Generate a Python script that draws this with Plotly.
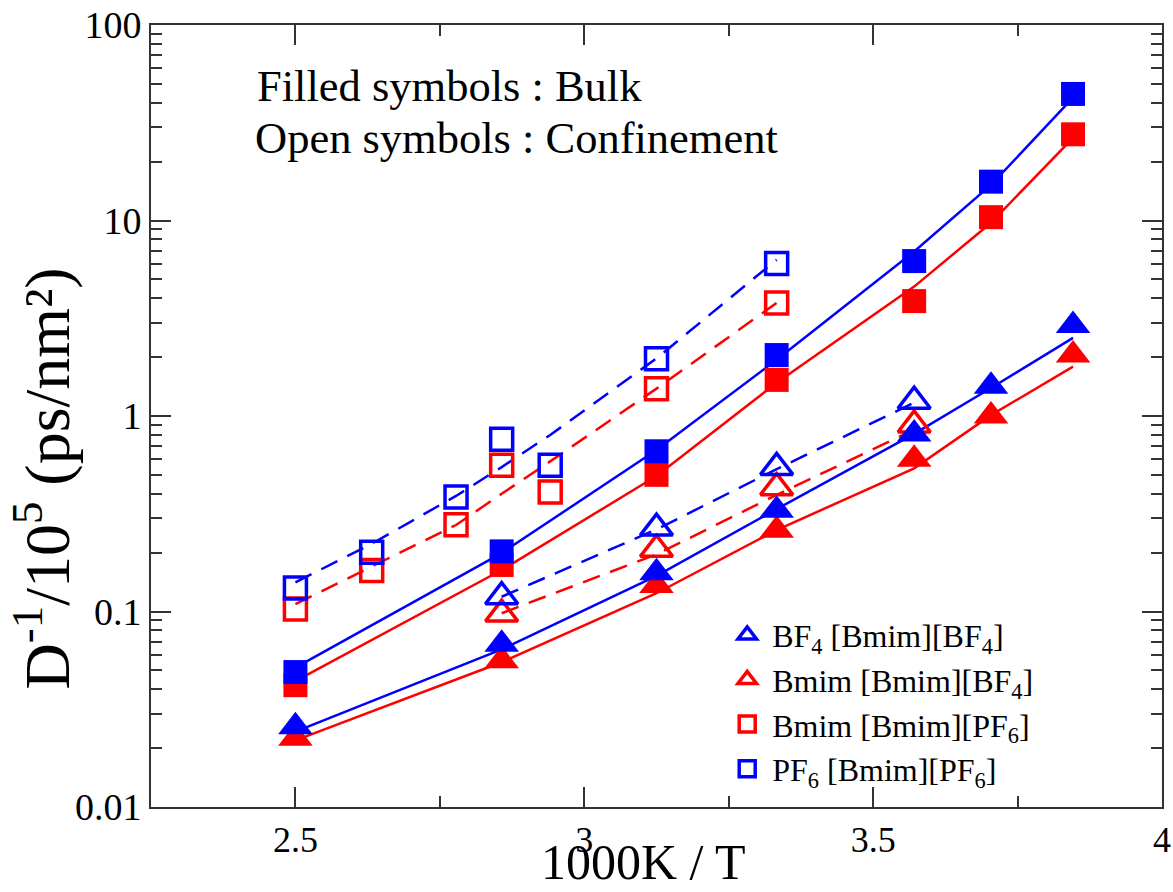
import plotly.graph_objects as go

# 1000K / T for the simulated temperatures
x_bulk = [2.5, 2.857, 3.125, 3.333, 3.571, 3.704, 3.846]
x_conf_pf6 = [2.5, 2.632, 2.778, 2.857, 2.941, 3.125, 3.333]
x_conf_bf4 = [2.857, 3.125, 3.333, 3.571]

# D^-1 / 10^5 (ps/nm^2), bulk (filled symbols)
pf6_bulk = [0.049, 0.203, 0.66, 2.05, 6.2, 15.8, 44.4]
bmim_pf6_bulk = [0.042, 0.173, 0.50, 1.53, 3.87, 10.4, 27.6]
bf4_bulk = [0.0257, 0.068, 0.158, 0.33, 0.81, 1.42, 2.9]
bmim_bf4_bulk = [0.0225, 0.056, 0.136, 0.26, 0.60, 1.0, 2.05]

# confinement (open symbols)
pf6_conf = [0.132, 0.201, 0.385, 0.76, 0.56, 1.96, 6.03]
bmim_pf6_conf = [0.103, 0.162, 0.278, 0.56, 0.408, 1.38, 3.79]
bf4_conf = [0.119, 0.267, 0.546, 1.19]
bmim_bf4_conf = [0.097, 0.208, 0.43, 0.90]

# fitted curves evaluated at the same temperatures
pf6_bulk_fit = [0.0516, 0.199, 0.67, 1.94, 6.94, 15.2, 42.5]
bmim_pf6_bulk_fit = [0.044, 0.163, 0.493, 1.48, 4.59, 9.73, 26.5]
bf4_bulk_fit = [0.0243, 0.064, 0.152, 0.334, 0.81, 1.39, 2.51]
bmim_bf4_bulk_fit = [0.0219, 0.055, 0.124, 0.261, 0.54, 1.01, 1.79]
pf6_conf_fit = [0.141, 0.222, 0.39, 0.548, 0.80, 1.97, 6.3]
bmim_pf6_conf_fit = [0.109, 0.17, 0.277, 0.40, 0.586, 1.38, 3.79]
bf4_conf_fit = [0.119, 0.263, 0.535, 1.17]
bmim_bf4_conf_fit = [0.098, 0.196, 0.395, 0.85]

y_tickvals = [0.01, 0.1, 1, 10, 100]
y_ticktext = ["0.01", "0.1", "1", "10", "100"]
x_tickvals = [2.5, 3, 3.5, 4]
x_ticktext = ["2.5", "3", "3.5", "4"]

BLUE = "#0000ff"
RED = "#ff0000"
FONT = "Liberation Serif"
DASH = "18px,11px"

fig = go.Figure()


def fit_line(x, y, color, dash):
    fig.add_trace(go.Scatter(x=x, y=y, mode="lines", showlegend=False,
                             line=dict(color=color, width=2.5, dash=dash),
                             hoverinfo="skip"))


def points(x, y, color, symbol, size, filled, name=None, rank=None):
    marker = dict(symbol=symbol, size=size, color=color,
                  line=dict(color=color, width=0 if filled else 3.5))
    fig.add_trace(go.Scatter(x=x, y=y, mode="markers", marker=marker,
                             name=name, showlegend=name is not None,
                             legendrank=rank if rank else 1000))


# fitted curves
fit_line(x_conf_pf6, bmim_pf6_conf_fit, RED, DASH)
fit_line(x_conf_pf6, pf6_conf_fit, BLUE, DASH)
fit_line(x_conf_bf4, bmim_bf4_conf_fit, RED, DASH)
fit_line(x_conf_bf4, bf4_conf_fit, BLUE, DASH)
fit_line(x_bulk, bmim_pf6_bulk_fit, RED, "solid")
fit_line(x_bulk, pf6_bulk_fit, BLUE, "solid")
fit_line(x_bulk, bmim_bf4_bulk_fit, RED, "solid")
fit_line(x_bulk, bf4_bulk_fit, BLUE, "solid")

# confinement (open symbols)
points(x_conf_pf6, bmim_pf6_conf, RED, "square-open", 22, False,
       "Bmim [Bmim][PF<sub>6</sub>]", 3)
points(x_conf_pf6, pf6_conf, BLUE, "square-open", 22, False,
       "PF<sub>6</sub> [Bmim][PF<sub>6</sub>]", 4)
points(x_conf_bf4, bmim_bf4_conf, RED, "triangle-up-open", 28, False,
       "Bmim [Bmim][BF<sub>4</sub>]", 2)
points(x_conf_bf4, bf4_conf, BLUE, "triangle-up-open", 28, False,
       "BF<sub>4</sub> [Bmim][BF<sub>4</sub>]", 1)

# bulk (filled symbols)
points(x_bulk, bmim_pf6_bulk, RED, "square", 24, True)
points(x_bulk, pf6_bulk, BLUE, "square", 24, True)
points(x_bulk, bmim_bf4_bulk, RED, "triangle-up", 30, True)
points(x_bulk, bf4_bulk, BLUE, "triangle-up", 30, True)

axis_common = dict(showline=True, linecolor="#333333", linewidth=2,
                   ticks="inside", tickcolor="#333333", tickwidth=2,
                   mirror="allticks", showgrid=False, zeroline=False,
                   automargin=False,
                   tickfont=dict(family=FONT, size=36, color="black"))

fig.update_xaxes(range=[2.25, 4], tickvals=x_tickvals, ticktext=x_ticktext,
                 ticklen=20,
                 minor=dict(ticks="inside", dtick=0.25, ticklen=11,
                            tickcolor="#333333", tickwidth=2, showgrid=False),
                 **axis_common)
fig.update_yaxes(type="log", range=[-2, 2], tickvals=y_tickvals,
                 ticktext=y_ticktext, ticklen=20,
                 tickfont=dict(family=FONT, size=38, color="black"),
                 minor=dict(ticks="inside", dtick="D1", ticklen=11,
                            tickcolor="#333333", tickwidth=2, showgrid=False),
                 **{k: v for k, v in axis_common.items() if k != "tickfont"})

fig.update_layout(
    width=1173, height=892,
    margin=dict(l=151, r=11, t=25, b=85),
    paper_bgcolor="white", plot_bgcolor="white",
    font=dict(family=FONT, color="black"),
    legend=dict(x=0.565, y=0.255, xanchor="left", yanchor="top",
                bgcolor="rgba(0,0,0,0)", borderwidth=0,
                font=dict(family=FONT, size=32, color="black"),
                itemwidth=40, traceorder="normal"),
    annotations=[
        dict(text="Filled symbols : Bulk", xref="paper", yref="paper",
             x=0.103, y=0.922, xanchor="left", yanchor="middle",
             showarrow=False, font=dict(family=FONT, size=44.5)),
        dict(text="Open symbols : Confinement", xref="paper", yref="paper",
             x=0.101, y=0.856, xanchor="left", yanchor="middle",
             showarrow=False, font=dict(family=FONT, size=44.5)),
        dict(text="1000K / T", xref="paper", yref="paper",
             x=0.487, y=-0.1087, xanchor="center", yanchor="bottom",
             showarrow=False, font=dict(family=FONT, size=50)),
        dict(text="D<sup>-1</sup>/10<sup>5</sup> (ps/nm²)", xref="paper", yref="paper",
             x=-0.107, y=0.42, xanchor="center", yanchor="middle",
             textangle=-90, showarrow=False, font=dict(family=FONT, size=64)),
    ],
)

fig.write_html("out.html")
